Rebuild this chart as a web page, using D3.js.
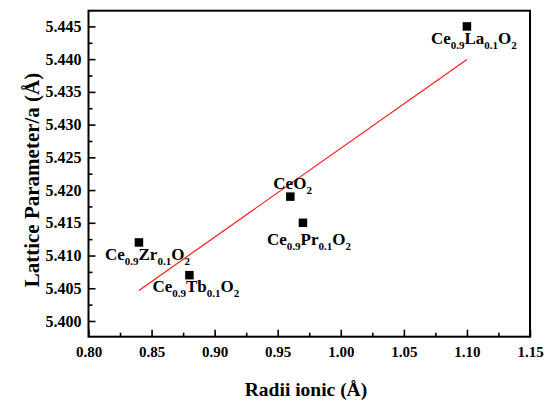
<!DOCTYPE html>
<html>
<head>
<meta charset="utf-8">
<script src="https://cdn.jsdelivr.net/npm/d3@7"></script>
<style>
  html, body { margin: 0; padding: 0; background: #fff; }
  svg { display: block; }
  text { font-family: "Liberation Serif", "Times New Roman", serif; font-weight: bold; fill: #000; }
</style>
</head>
<body>
<script>
// Ionic radius of the dopant (Å) and lattice parameter a (Å)
const samples = ["Ce0.9Zr0.1O2", "Ce0.9Tb0.1O2", "CeO2", "Ce0.9Pr0.1O2", "Ce0.9La0.1O2"];
const radii = [0.84, 0.88, 0.96, 0.97, 1.10];
const lattice = [5.412, 5.407, 5.419, 5.415, 5.445];

// Label text split into [text, isSubscript] runs
const labelRuns = [
  [["Ce", 0], ["0.9", 1], ["Zr", 0], ["0.1", 1], ["O", 0], ["2", 1]],
  [["Ce", 0], ["0.9", 1], ["Tb", 0], ["0.1", 1], ["O", 0], ["2", 1]],
  [["CeO", 0], ["2", 1]],
  [["Ce", 0], ["0.9", 1], ["Pr", 0], ["0.1", 1], ["O", 0], ["2", 1]],
  [["Ce", 0], ["0.9", 1], ["La", 0], ["0.1", 1], ["O", 0], ["2", 1]]
];
// Label anchor offsets from each point (px)
const labelDx = [-34, -37, -17, -36, -36];
const labelDy = [18, 17, -8, 22, 18];

const xTicks = [0.80, 0.85, 0.90, 0.95, 1.00, 1.05, 1.10, 1.15];
const yTicks = [5.400, 5.405, 5.410, 5.415, 5.420, 5.425, 5.430, 5.435, 5.440, 5.445];

const W = 547, H = 410;
const plot = { left: 88.5, right: 530, top: 10.7, bottom: 336.7 };

const svg = d3.select("body").append("svg").attr("width", W).attr("height", H);

const x = d3.scaleLinear().domain([0.80, 1.15]).range([plot.left, plot.right]);
const y = d3.scaleLinear().domain([5.3976, 5.4474]).range([plot.bottom, plot.top]);

// Minor ticks halfway between majors
const xMinor = d3.range(0.825, 1.15, 0.05);
const yMinor = d3.range(5.4025, 5.446, 0.005);

function styleAxis(size) {
  return g => {
    g.select(".domain").remove();
    g.selectAll(".tick line").attr("stroke", "#000").attr("stroke-width", 1.6);
    g.selectAll(".tick text").attr("font-size", size);
  };
}

svg.append("g")
  .attr("transform", `translate(0,${plot.bottom})`)
  .call(d3.axisBottom(x).tickValues(xTicks).tickFormat(d3.format(".2f")).tickSizeInner(-7).tickSizeOuter(0).tickPadding(10))
  .call(styleAxis(15));

svg.append("g")
  .attr("transform", `translate(0,${plot.bottom})`)
  .call(d3.axisBottom(x).tickValues(xMinor).tickFormat("").tickSizeInner(-4).tickSizeOuter(0))
  .call(styleAxis(15));

svg.append("g")
  .attr("transform", `translate(${plot.left},0)`)
  .call(d3.axisLeft(y).tickValues(yTicks).tickFormat(d3.format(".3f")).tickSizeInner(-7).tickSizeOuter(0).tickPadding(7))
  .call(styleAxis(16));

svg.append("g")
  .attr("transform", `translate(${plot.left},0)`)
  .call(d3.axisLeft(y).tickValues(yMinor).tickFormat("").tickSizeInner(-4).tickSizeOuter(0))
  .call(styleAxis(16));

// Frame
svg.append("rect")
  .attr("x", plot.left).attr("y", plot.top)
  .attr("width", plot.right - plot.left).attr("height", plot.bottom - plot.top)
  .attr("fill", "none").attr("stroke", "#000").attr("stroke-width", 2);

// Least-squares fit line over the data range
const mx = d3.mean(radii), my = d3.mean(lattice);
const slope = d3.sum(radii, (r, i) => (r - mx) * (lattice[i] - my)) / d3.sum(radii, r => (r - mx) ** 2);
const intercept = my - slope * mx;
const xFit = d3.extent(radii);
svg.append("line")
  .attr("x1", x(xFit[0])).attr("y1", y(intercept + slope * xFit[0]))
  .attr("x2", x(xFit[1])).attr("y2", y(intercept + slope * xFit[1]))
  .attr("stroke", "#ff1a1a").attr("stroke-width", 1.2);

// Data points
const S = 8.5;
svg.selectAll("rect.pt").data(radii).join("rect")
  .attr("class", "pt")
  .attr("x", d => x(d) - S / 2)
  .attr("y", (d, i) => y(lattice[i]) - S / 2)
  .attr("width", S).attr("height", S)
  .attr("fill", "#000");

// Sample labels with subscripts
radii.forEach((r, i) => {
  const t = svg.append("text")
    .attr("x", x(r) + labelDx[i])
    .attr("y", y(lattice[i]) + labelDy[i])
    .attr("font-size", 17);
  labelRuns[i].forEach(([s, sub], k) => {
    const prevSub = k > 0 ? labelRuns[i][k - 1][1] : 0;
    t.append("tspan")
      .attr("font-size", sub ? 11 : 17)
      .attr("dy", sub ? 5 : (prevSub ? -5 : 0))
      .text(s);
  });
});

// Axis titles
svg.append("text")
  .attr("x", 306).attr("y", 396)
  .attr("text-anchor", "middle").attr("font-size", 19.5)
  .text("Radii ionic (Å)");

svg.append("text")
  .attr("transform", "translate(39,180) rotate(-90)")
  .attr("text-anchor", "middle").attr("font-size", 21)
  .text("Lattice Parameter/a (Å)");
</script>
</body>
</html>
